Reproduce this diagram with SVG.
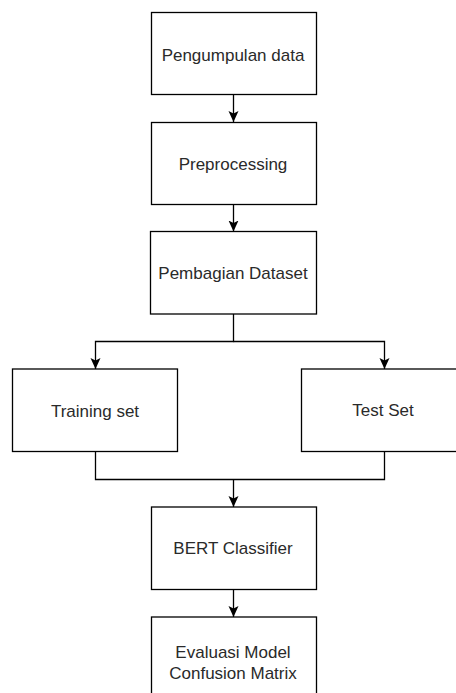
<svg xmlns="http://www.w3.org/2000/svg" width="456" height="693" viewBox="0 0 456 693">
  <style>
    .box { fill: #ffffff; stroke: #000000; stroke-width: 1.3; }
    .lbl { font-family: "Liberation Sans", Arial, sans-serif; font-size: 17px; fill: #2a2a2a; text-anchor: middle; }
    .conn { fill: none; stroke: #000000; stroke-width: 1.3; }
  </style>
  <defs>
    <marker id="arr" markerUnits="userSpaceOnUse" markerWidth="12" markerHeight="12" viewBox="0 0 12 12" refX="11" refY="6" orient="auto">
      <path d="M0,1 L11,6 L0,11 L2.5,6 Z" fill="#000000"/>
    </marker>
  </defs>
  <rect width="456" height="693" fill="#ffffff"/>

  <g id="connectors">
    <path class="conn" d="M233.5,94.5 V122" marker-end="url(#arr)"/>
    <path class="conn" d="M233.5,204.5 V231.5" marker-end="url(#arr)"/>
    <path class="conn" d="M233.5,314 V341.5 H95.5 V369" marker-end="url(#arr)"/>
    <path class="conn" d="M233.5,341.5 H384.5 V369" marker-end="url(#arr)"/>
    <path class="conn" d="M95.5,451.5 V479.5 H384.5 V451.5"/>
    <path class="conn" d="M233.5,479.5 V507" marker-end="url(#arr)"/>
    <path class="conn" d="M233.5,589.5 V617" marker-end="url(#arr)"/>
  </g>

  <g id="pengumpulan">
    <rect class="box" x="151.5" y="12.5" width="165" height="82"/>
    <text class="lbl" x="233" y="60.5">Pengumpulan data</text>
  </g>
  <g id="preprocessing">
    <rect class="box" x="151.5" y="122.5" width="165" height="82"/>
    <text class="lbl" x="233" y="170">Preprocessing</text>
  </g>
  <g id="pembagian">
    <rect class="box" x="150.5" y="231.5" width="166" height="82.5"/>
    <text class="lbl" x="233" y="279">Pembagian Dataset</text>
  </g>
  <g id="training">
    <rect class="box" x="12.5" y="369" width="165" height="82.5"/>
    <text class="lbl" x="95" y="416.5">Training set</text>
  </g>
  <g id="test">
    <rect class="box" x="301.5" y="369" width="166" height="82.5"/>
    <text class="lbl" x="383" y="415.5">Test Set</text>
  </g>
  <g id="bert">
    <rect class="box" x="151.5" y="507" width="165" height="82.5"/>
    <text class="lbl" x="233" y="553.5">BERT Classifier</text>
  </g>
  <g id="evaluasi">
    <rect class="box" x="151.5" y="617" width="165" height="82.5"/>
    <text class="lbl" x="233" y="658">Evaluasi Model</text>
    <text class="lbl" x="233" y="679">Confusion Matrix</text>
  </g>
</svg>
